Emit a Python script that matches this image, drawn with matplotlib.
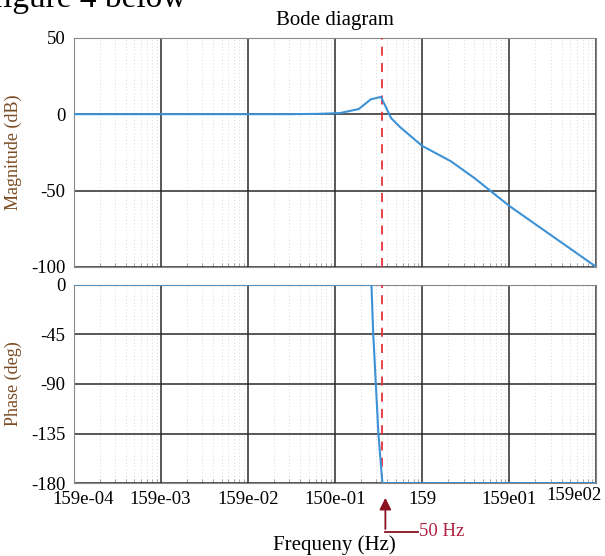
import numpy as np
import matplotlib.pyplot as plt
from matplotlib.ticker import LogLocator, NullFormatter
from matplotlib.transforms import ScaledTranslation

plt.rcParams['font.family'] = ['Liberation Serif', 'DejaVu Serif']
plt.rcParams['axes.unicode_minus'] = False

# magnitude curve (frequency, dB)
mag_f = [1e-4, 1e-3, 1e-2, 0.0316, 0.0631, 0.1146, 0.1884, 0.2582, 0.338,
         0.4436, 0.5559, 1.0, 2.153, 4.055, 10.0, 100.0]
mag_db = [0, 0, 0, 0, 0.2, 0.7, 3.4, 9.7, 11.3, -2.7, -8.3, -20.7, -30.9,
          -42.1, -60.0, -100.0]

# phase curve (frequency, deg)
ph_f = [1e-4, 0.263, 0.275, 0.316, 0.351, 100.0]
ph_deg = [0, 0, -43, -135, -180, -180]

f_mark = 0.347   # red dashed line (50 Hz)
arrow_f = 0.38

xticks = [1e-4, 1e-3, 1e-2, 1e-1, 1e0, 1e1, 1e2]
xlabels = ['159e-04', '159e-03', '159e-02', '150e-01', '159', '159e01', '159e02']
mag_ticks = [50, 0, -50, -100]
ph_ticks = [0, -45, -90, -135, -180]

blue = '#3d92d6'
lab_col = '#7a4b22'

fig = plt.figure(figsize=(6.05, 5.56), dpi=100)
ax1 = fig.add_axes([0.1215, 0.52, 0.864, 0.412])
ax2 = fig.add_axes([0.1215, 0.131, 0.864, 0.357])

for ax in (ax1, ax2):
    ax.set_xscale('log')
    ax.set_xlim(1e-4, 1e2)
    ax.set_xticks(xticks)
    ax.xaxis.set_minor_locator(LogLocator(base=10, subs=np.arange(2, 10), numticks=20))
    ax.xaxis.set_minor_formatter(NullFormatter())
    ax.grid(True, which='major', color='#2a2a2a', lw=1.1)
    ax.grid(True, which='minor', axis='x', color='#cccccc', lw=0.6, ls=(0, (1, 3)))
    ax.tick_params(which='both', direction='in', length=3, color='#999999',
                   labelsize=13.5, top=False, right=False)
    ax.tick_params(which='major', length=0, pad=6)
    for s in ax.spines.values():
        s.set_color('#888888')
    ax.axvline(f_mark, color='#e8303a', lw=1.3, ls=(0, (5, 4)), zorder=3)

ax1.plot(mag_f, mag_db, color=blue, lw=1.5, zorder=4)
ax1.set_ylim(-100, 50)
ax1.set_yticks(mag_ticks)
ax1.set_xticklabels([])
ax1.set_ylabel('Magnitude (dB)', color=lab_col, fontsize=13, labelpad=6)
ax1.set_title('Bode diagram', fontsize=15, pad=9)

ax2.plot(ph_f, ph_deg, color=blue, lw=1.5, zorder=4)
ax2.set_ylim(-180, 0)
ax2.set_yticks(ph_ticks)
ax2.set_xticklabels(xlabels)
ax2.set_ylabel('Phase (deg)', color=lab_col, fontsize=13, labelpad=6)
ax2.set_xlabel('Frequeny (Hz)', fontsize=15, labelpad=19)

# nudge the end labels like in the original
tl = ax2.get_xticklabels()
tl[0].set_transform(tl[0].get_transform() + ScaledTranslation(0.1, 0, fig.dpi_scale_trans))
tl[-1].set_transform(tl[-1].get_transform() + ScaledTranslation(-0.22, 0.04, fig.dpi_scale_trans))

# 50 Hz marker below the axis
ax2.annotate('', xy=(arrow_f, -0.06), xytext=(arrow_f, -0.245),
             xycoords=('data', 'axes fraction'), textcoords=('data', 'axes fraction'),
             arrowprops=dict(arrowstyle='-|>,head_width=0.35,head_length=0.7',
                             color='#8b1020', lw=1.3), annotation_clip=False)
ax2.plot([arrow_f, 0.9], [-0.245, -0.245], color='#8b1020', lw=1.3,
         transform=ax2.get_xaxis_transform(), clip_on=False)
ax2.text(0.93, -0.245, '50 Hz', color='#b02040', fontsize=13.5, va='center',
         ha='left', transform=ax2.get_xaxis_transform())

fig.text(-0.013, 0.988, 'figure 4 below', fontsize=24, va='baseline', ha='left')

fig.savefig('out.png', dpi=100)
